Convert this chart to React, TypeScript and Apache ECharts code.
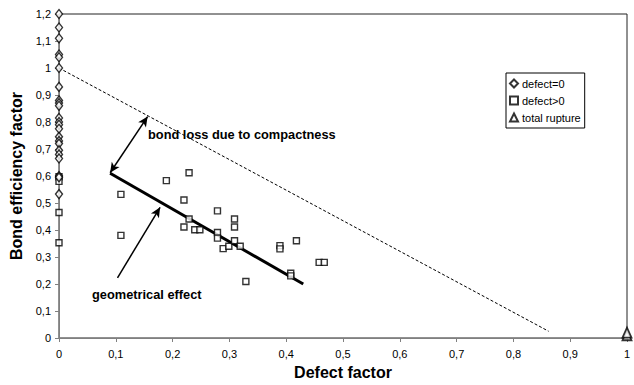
import React, { useEffect, useRef } from "react";
import * as echarts from "echarts";

const xTicks = [0, 0.1, 0.2, 0.3, 0.4, 0.5, 0.6, 0.7, 0.8, 0.9, 1];
const yTicks = [0, 0.1, 0.2, 0.3, 0.4, 0.5, 0.6, 0.7, 0.8, 0.9, 1, 1.1, 1.2];

// defect = 0 (all at defect factor 0)
const defectZeroY = [
  1.2, 1.15, 1.11, 1.05, 1.04, 1.0, 0.93, 0.88, 0.87, 0.86, 0.815, 0.8, 0.79,
  0.775, 0.745, 0.73, 0.72, 0.695, 0.68, 0.665, 0.6, 0.595, 0.533,
];

// defect > 0 : [defect factor, bond efficiency factor]
const defectPosX = [
  0, 0, 0, 0, 0.109, 0.109, 0.189, 0.229, 0.22, 0.22, 0.229, 0.239, 0.248,
  0.279, 0.279, 0.279, 0.289, 0.299, 0.309, 0.309, 0.309, 0.319, 0.329, 0.389,
  0.389, 0.418, 0.408, 0.408, 0.458, 0.467,
];
const defectPosY = [
  0.597, 0.58, 0.465, 0.353, 0.532, 0.38, 0.583, 0.612, 0.511, 0.411, 0.441,
  0.401, 0.401, 0.471, 0.391, 0.37, 0.331, 0.34, 0.441, 0.411, 0.36, 0.34,
  0.209, 0.342, 0.33, 0.36, 0.24, 0.23, 0.28, 0.28,
];

// total rupture
const ruptureX = [1, 1];
const ruptureY = [0.01, 0.02];

// trend line (geometrical effect) and theoretical line
const trendX = [0.09, 0.43];
const trendY = [0.61, 0.2];
const theoryX = [0, 0.862];
const theoryY = [1, 0.025];

// annotation arrows
const lossArrow = [
  [0.156, 0.82],
  [0.09, 0.612],
];
const geoArrow = [
  [0.103, 0.223],
  [0.178, 0.484],
];

const FONT = "'Liberation Sans', Arial, sans-serif";
const fmt = (v: number) => String(Math.round(v * 10) / 10).replace(".", ",");

export default function App() {
  const ref = useRef<HTMLDivElement>(null);
  useEffect(() => {
    if (!ref.current) return;
    const chart = echarts.init(ref.current, undefined, { renderer: "svg" });
    const hollow = { color: "#fff", borderColor: "#000", borderWidth: 1.4 };
    chart.setOption({
      animation: false,
      backgroundColor: "#fff",
      textStyle: { fontFamily: FONT },
      grid: {
        left: 59,
        right: 7,
        top: 14,
        bottom: 47,
        show: true,
        borderColor: "#222",
        borderWidth: 1,
      },
      xAxis: {
        type: "value",
        min: 0,
        max: 1,
        interval: 0.1,
        name: "Defect factor",
        nameLocation: "middle",
        nameGap: 26,
        nameTextStyle: { fontSize: 16, fontWeight: "bold", color: "#000", fontFamily: FONT },
        axisLine: { show: true, lineStyle: { color: "#808080", width: 1 } },
        axisTick: { show: true, length: 4, lineStyle: { color: "#808080" } },
        splitLine: { show: false },
        axisLabel: {
          margin: 10,
          fontSize: 11,
          color: "#000",
          fontFamily: FONT,
          formatter: (v: number) => fmt(v),
        },
      },
      yAxis: {
        type: "value",
        min: 0,
        max: 1.2,
        interval: 0.1,
        name: "Bond efficiency factor",
        nameLocation: "middle",
        nameGap: 31,
        nameTextStyle: { fontSize: 16, fontWeight: "bold", color: "#000", fontFamily: FONT },
        axisLine: { show: true, lineStyle: { color: "#808080", width: 1 } },
        axisTick: { show: true, length: 4, lineStyle: { color: "#808080" } },
        splitLine: { show: false },
        axisLabel: {
          margin: 8,
          fontSize: 11,
          color: "#000",
          fontFamily: FONT,
          formatter: (v: number) => fmt(v),
        },
      },
      legend: {
        data: ["defect=0", "defect>0", "total rupture"],
        orient: "vertical",
        left: 506,
        top: 73,
        borderColor: "#000",
        borderWidth: 1,
        padding: [5, 4, 5, 3],
        itemGap: 6,
        itemWidth: 8,
        itemHeight: 8,
        textStyle: { fontSize: 11, color: "#000", fontFamily: FONT, padding: [0, 0, 0, -1] },
      },
      series: [
        {
          type: "line",
          name: "theory",
          data: theoryX.map((x, i) => [x, theoryY[i]]),
          showSymbol: false,
          symbol: "none",
          lineStyle: { color: "#000", width: 1, type: [3, 2] },
          z: 1,
        },
        {
          type: "line",
          name: "trend",
          data: trendX.map((x, i) => [x, trendY[i]]),
          showSymbol: false,
          symbol: "none",
          lineStyle: { color: "#000", width: 3 },
          z: 2,
          markLine: {
            silent: true,
            symbolSize: [7, 10],
            lineStyle: { color: "#000", width: 1.5, type: "solid" },
            label: { show: false },
            data: [
              [
                { coord: lossArrow[0], symbol: "arrow" },
                { coord: lossArrow[1], symbol: "arrow" },
              ],
              [
                { coord: geoArrow[0], symbol: "none" },
                { coord: geoArrow[1], symbol: "arrow" },
              ],
            ],
          },
        },
        {
          type: "scatter",
          name: "defect=0",
          data: defectZeroY.map((y) => [0, y]),
          symbol: "diamond",
          symbolSize: [7, 9],
          itemStyle: hollow,
          z: 5,
        },
        {
          type: "scatter",
          name: "defect>0",
          data: defectPosX.map((x, i) => [x, defectPosY[i]]),
          symbol: "rect",
          symbolSize: 6,
          itemStyle: hollow,
          z: 4,
        },
        {
          type: "scatter",
          name: "total rupture",
          data: ruptureX.map((x, i) => [x, ruptureY[i]]),
          symbol: "triangle",
          symbolSize: [9, 10],
          itemStyle: { ...hollow, borderWidth: 1.8 },
          z: 6,
        },
      ],
      graphic: [
        {
          type: "text",
          x: 148,
          y: 134,
          style: {
            text: "bond loss due to compactness",
            font: `bold 12.8px ${FONT}`,
            fill: "#000",
            align: "left",
            verticalAlign: "middle",
          },
        },
        {
          type: "text",
          x: 92,
          y: 294,
          style: {
            text: "geometrical effect",
            font: `bold 12.8px ${FONT}`,
            fill: "#000",
            align: "left",
            verticalAlign: "middle",
          },
        },
      ],
    });
    return () => chart.dispose();
  }, []);
  return (
    <div
      ref={ref}
      style={{ position: "absolute", left: 0, top: 0, width: 634, height: 385 }}
    />
  );
}
